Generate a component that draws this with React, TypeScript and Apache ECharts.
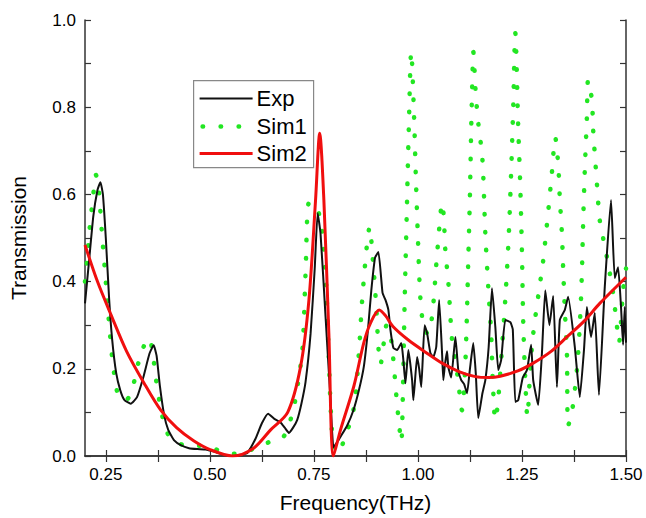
import React, { useEffect, useRef } from "react";
import * as echarts from "echarts";

// Frequency (THz), Transmission
const expPoints: [number, number][] = [
  [0.2, 0.35], [0.21, 0.45], [0.22, 0.55], [0.23, 0.61], [0.237, 0.628], [0.243, 0.6],
  [0.25, 0.5], [0.258, 0.36], [0.265, 0.27], [0.275, 0.19], [0.285, 0.15], [0.295, 0.128],
  [0.31, 0.12], [0.325, 0.135], [0.34, 0.18], [0.355, 0.235], [0.365, 0.254], [0.372, 0.23],
  [0.38, 0.16], [0.39, 0.095], [0.4, 0.06], [0.415, 0.035], [0.43, 0.025], [0.45, 0.018],
  [0.47, 0.016], [0.49, 0.015], [0.51, 0.01], [0.53, 0.004], [0.55, 0.0], [0.57, 0.002],
  [0.59, 0.007], [0.61, 0.04], [0.625, 0.075], [0.64, 0.097], [0.655, 0.085], [0.67, 0.077],
  [0.68, 0.065], [0.69, 0.053], [0.7, 0.065], [0.71, 0.083], [0.72, 0.12], [0.73, 0.17],
  [0.742, 0.28], [0.752, 0.43], [0.759, 0.557], [0.766, 0.51], [0.778, 0.32], [0.79, 0.128],
  [0.797, 0.02], [0.805, 0.03], [0.814, 0.044], [0.83, 0.07], [0.845, 0.105], [0.858, 0.15],
  [0.87, 0.205], [0.88, 0.29], [0.888, 0.38], [0.897, 0.455], [0.905, 0.468], [0.915, 0.374],
  [0.922, 0.358], [0.929, 0.335], [0.934, 0.289], [0.941, 0.248], [0.95, 0.243], [0.96, 0.259],
  [0.965, 0.22], [0.97, 0.167], [0.977, 0.243], [0.986, 0.174], [0.989, 0.128], [0.998, 0.227],
  [1.003, 0.2], [1.008, 0.158], [1.016, 0.3], [1.022, 0.282], [1.03, 0.236], [1.037, 0.227],
  [1.044, 0.25], [1.051, 0.358], [1.058, 0.236], [1.061, 0.174], [1.065, 0.21], [1.07, 0.24],
  [1.073, 0.204], [1.08, 0.18], [1.09, 0.273], [1.097, 0.197], [1.104, 0.174], [1.111, 0.165],
  [1.118, 0.144], [1.125, 0.2], [1.133, 0.259], [1.139, 0.19], [1.145, 0.087], [1.155, 0.144],
  [1.162, 0.174], [1.17, 0.25], [1.178, 0.385], [1.186, 0.296], [1.193, 0.197], [1.2, 0.22],
  [1.21, 0.312], [1.222, 0.307], [1.228, 0.29], [1.234, 0.124], [1.241, 0.128], [1.252, 0.18],
  [1.262, 0.197], [1.272, 0.255], [1.277, 0.174], [1.289, 0.117], [1.298, 0.236], [1.306, 0.38],
  [1.316, 0.3], [1.325, 0.367], [1.334, 0.158], [1.341, 0.312], [1.353, 0.335], [1.361, 0.365],
  [1.377, 0.25], [1.389, 0.135], [1.399, 0.243], [1.406, 0.342], [1.416, 0.273], [1.425, 0.328],
  [1.435, 0.14], [1.449, 0.388], [1.464, 0.587], [1.473, 0.408], [1.481, 0.433], [1.488, 0.342],
  [1.493, 0.255], [1.497, 0.342], [1.5, 0.26],
];

const sim1Points: [number, number][] = [
  [0.2, 0.4], [0.205, 0.45], [0.212, 0.53], [0.22, 0.6], [0.226, 0.645], [0.232, 0.62],
  [0.24, 0.52], [0.25, 0.4], [0.26, 0.28], [0.27, 0.19], [0.285, 0.13], [0.3, 0.13],
  [0.315, 0.16], [0.33, 0.22], [0.345, 0.26], [0.354, 0.27], [0.362, 0.24], [0.37, 0.18],
  [0.38, 0.12], [0.393, 0.065], [0.41, 0.035], [0.44, 0.025], [0.48, 0.023], [0.5, 0.02],
  [0.53, 0.01], [0.56, 0.005], [0.59, 0.01], [0.61, 0.02], [0.646, 0.033], [0.677, 0.044],
  [0.7, 0.105], [0.713, 0.175], [0.723, 0.25], [0.73, 0.42], [0.738, 0.58], [0.749, 0.58],
  [0.766, 0.54], [0.778, 0.42], [0.785, 0.25], [0.792, 0.08], [0.8, 0.01], [0.81, 0.01],
  [0.82, 0.03], [0.846, 0.11], [0.858, 0.235], [0.866, 0.357], [0.878, 0.49], [0.884, 0.525],
  [0.89, 0.47], [0.9, 0.34], [0.905, 0.25], [0.91, 0.21], [0.918, 0.26], [0.925, 0.3],
  [0.932, 0.29], [0.94, 0.23], [0.948, 0.14], [0.955, 0.07], [0.96, 0.032], [0.964, 0.15],
  [0.968, 0.35], [0.973, 0.55], [0.978, 0.75], [0.984, 0.927], [0.99, 0.8], [0.995, 0.64],
  [1.0, 0.5], [1.006, 0.36], [1.015, 0.29], [1.025, 0.28], [1.035, 0.33], [1.045, 0.45],
  [1.052, 0.53], [1.058, 0.58], [1.062, 0.55], [1.066, 0.47], [1.073, 0.4], [1.082, 0.266],
  [1.09, 0.22], [1.097, 0.17], [1.106, 0.105], [1.112, 0.17], [1.117, 0.3], [1.121, 0.45],
  [1.125, 0.6], [1.128, 0.75], [1.131, 0.87], [1.133, 0.927], [1.139, 0.83], [1.145, 0.764],
  [1.155, 0.68], [1.162, 0.51], [1.169, 0.388], [1.176, 0.28], [1.18, 0.17], [1.186, 0.083],
  [1.192, 0.12], [1.2, 0.22], [1.21, 0.36], [1.218, 0.5], [1.224, 0.65], [1.229, 0.8],
  [1.234, 0.97], [1.241, 0.755], [1.246, 0.617], [1.25, 0.466], [1.253, 0.31], [1.258, 0.174],
  [1.263, 0.09], [1.27, 0.2], [1.277, 0.28], [1.294, 0.4], [1.3, 0.44], [1.313, 0.56],
  [1.322, 0.65], [1.33, 0.73], [1.337, 0.67], [1.341, 0.59], [1.346, 0.51], [1.349, 0.43],
  [1.353, 0.335], [1.358, 0.236], [1.361, 0.07], [1.37, 0.1], [1.382, 0.197], [1.39, 0.32],
  [1.394, 0.42], [1.397, 0.534], [1.401, 0.656], [1.406, 0.777], [1.409, 0.862], [1.418, 0.817],
  [1.421, 0.75], [1.43, 0.626], [1.437, 0.54], [1.445, 0.5], [1.454, 0.457], [1.461, 0.42],
  [1.469, 0.373], [1.478, 0.3], [1.483, 0.26], [1.493, 0.38], [1.5, 0.43],
];

const sim2Points: [number, number][] = [
  [0.2, 0.484], [0.23, 0.4], [0.262, 0.325], [0.3, 0.24], [0.342, 0.167], [0.382, 0.105],
  [0.42, 0.065], [0.461, 0.035], [0.502, 0.014], [0.555, 0.0], [0.605, 0.018], [0.646, 0.06],
  [0.687, 0.1], [0.718, 0.205], [0.738, 0.357], [0.754, 0.587], [0.764, 0.74], [0.774, 0.587],
  [0.786, 0.28], [0.797, 0.0], [0.814, 0.06], [0.846, 0.16], [0.87, 0.26], [0.886, 0.305],
  [0.907, 0.335], [0.922, 0.322], [0.94, 0.297], [0.977, 0.266], [1.02, 0.237], [1.058, 0.213],
  [1.1, 0.193], [1.138, 0.182], [1.17, 0.18], [1.198, 0.183], [1.24, 0.195], [1.277, 0.213],
  [1.32, 0.24], [1.358, 0.273], [1.4, 0.31], [1.437, 0.35], [1.5, 0.41],
];

const xTickValues = [0.25, 0.375, 0.5, 0.625, 0.75, 0.875, 1.0, 1.125, 1.25, 1.375, 1.5];
const xLabelValues = [0.25, 0.5, 0.75, 1.0, 1.25, 1.5];
const yLabelValues = [0, 0.2, 0.4, 0.6, 0.8, 1.0];
const seriesNames = ["Exp", "Sim1", "Sim2"];
const seriesColors = ["#111111", "#22e622", "#f00f0f"];

const FONT = "'Liberation Sans', Arial, sans-serif";
const AXIS_COLOR = "#333";

export default function App() {
  const ref = useRef<HTMLDivElement>(null);
  useEffect(() => {
    if (!ref.current) return;
    const chart = echarts.init(ref.current, undefined, { renderer: "svg" });
    const axisLine = { show: true, lineStyle: { color: AXIS_COLOR, width: 1.5 } };
    const tick = { show: true, inside: true, length: 6, lineStyle: { color: AXIS_COLOR, width: 1.2 } };
    const sim1Dash = { type: [0.5, 17.5] as number[], cap: "round" as const, width: 4.5 };
    chart.setOption({
      animation: false,
      backgroundColor: "#ffffff",
      grid: { left: 84, right: 20, top: 20, bottom: 62, containLabel: false },
      xAxis: [
        {
          type: "value", min: 0.2, max: 1.5, position: "bottom",
          axisLine, splitLine: { show: false },
          axisTick: { ...tick, customValues: xTickValues },
          axisLabel: {
            customValues: xLabelValues, formatter: (v: number) => v.toFixed(2),
            fontSize: 17, color: "#000", fontFamily: FONT, margin: 10,
          },
          name: "Frequency(THz)", nameLocation: "middle", nameGap: 36,
          nameTextStyle: { fontSize: 21, color: "#000", fontFamily: FONT },
        },
        {
          type: "value", min: 0.2, max: 1.5, position: "top",
          axisLine, splitLine: { show: false },
          axisTick: { ...tick, customValues: xTickValues },
          axisLabel: { show: false },
        },
      ],
      yAxis: [
        {
          type: "value", min: 0, max: 1, interval: 0.1, position: "left",
          axisLine, splitLine: { show: false }, axisTick: tick,
          axisLabel: {
            customValues: yLabelValues, formatter: (v: number) => v.toFixed(1),
            fontSize: 17, color: "#000", fontFamily: FONT, margin: 9,
          },
          name: "Transmission", nameLocation: "middle", nameGap: 56, nameRotate: 90,
          nameTextStyle: { fontSize: 21, color: "#000", fontFamily: FONT },
        },
        {
          type: "value", min: 0, max: 1, interval: 0.1, position: "right",
          axisLine, splitLine: { show: false }, axisTick: tick,
          axisLabel: { show: false },
        },
      ],
      series: [
        {
          name: seriesNames[1], type: "line", data: sim1Points, xAxisIndex: 0, yAxisIndex: 0,
          showSymbol: false, symbol: "none", smooth: 0.3,
          lineStyle: { ...sim1Dash, color: seriesColors[1] }, z: 2,
        },
        {
          name: seriesNames[0], type: "line", data: expPoints, xAxisIndex: 0, yAxisIndex: 0,
          showSymbol: false, symbol: "none", smooth: 0.15,
          lineStyle: { width: 2, color: seriesColors[0] }, z: 3,
        },
        {
          name: seriesNames[2], type: "line", data: sim2Points, xAxisIndex: 0, yAxisIndex: 0,
          showSymbol: false, symbol: "none", smooth: 0.3,
          lineStyle: { width: 3, color: seriesColors[2] }, z: 4,
        },
      ],
      graphic: [
        {
          type: "group", left: 193, top: 80, z: 100,
          children: [
            { type: "rect", shape: { x: 0, y: 0, width: 120, height: 87 }, style: { fill: "#fff", stroke: "#888", lineWidth: 1.2 } },
            { type: "line", shape: { x1: 6, y1: 18, x2: 59, y2: 18 }, style: { stroke: seriesColors[0], lineWidth: 2 } },
            { type: "line", shape: { x1: 9, y1: 46, x2: 59, y2: 46 }, style: { stroke: seriesColors[1], lineWidth: 4.5, lineDash: [0.5, 17.5], lineCap: "round" } },
            { type: "line", shape: { x1: 6, y1: 73, x2: 59, y2: 73 }, style: { stroke: seriesColors[2], lineWidth: 3 } },
            { type: "text", x: 63, y: 18, style: { text: seriesNames[0], fontSize: 22, fontFamily: FONT, fill: "#000", verticalAlign: "middle" } },
            { type: "text", x: 63, y: 46, style: { text: seriesNames[1], fontSize: 22, fontFamily: FONT, fill: "#000", verticalAlign: "middle" } },
            { type: "text", x: 63, y: 73, style: { text: seriesNames[2], fontSize: 22, fontFamily: FONT, fill: "#000", verticalAlign: "middle" } },
          ],
        },
      ],
    });
    return () => chart.dispose();
  }, []);
  return (
    <div
      ref={ref}
      style={{ position: "fixed", left: 0, top: 0, width: 646, height: 518, background: "#fff" }}
    />
  );
}
